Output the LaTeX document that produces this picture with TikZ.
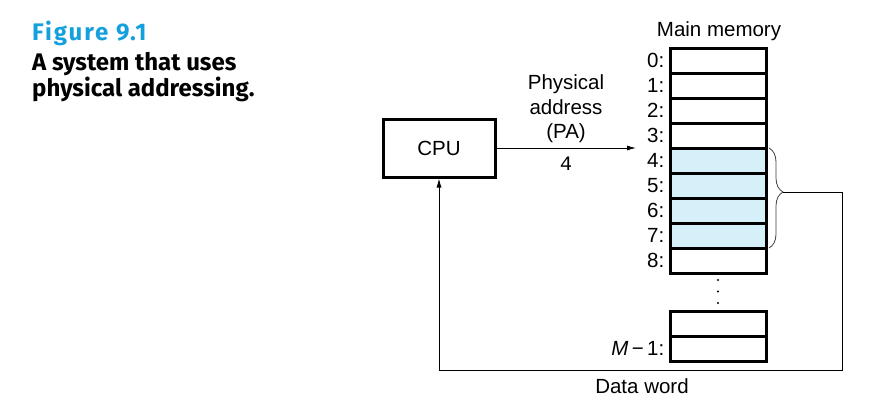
\documentclass[tikz,border=0pt]{standalone}
\usepackage{fontspec}
\setmainfont{Liberation Sans}
\setmonofont{Liberation Mono}
\newfontfamily\capfont{Fira Sans}
\newfontfamily\capwide[LetterSpace=8]{Fira Sans}
\usetikzlibrary{arrows.meta,positioning,decorations.pathreplacing}
\definecolor{capblue}{RGB}{20,160,220}
\definecolor{cellblue}{RGB}{214,240,250}
\tikzstyle{memcell} = [draw, line width=3pt, minimum width=96pt, minimum height=25pt, inner sep=0pt, outer sep=0pt]
\tikzstyle{hlcell} = [memcell, fill=cellblue]
\tikzstyle{cpublock} = [draw, line width=3pt, minimum width=112pt, minimum height=58pt]
\tikzstyle{arrow} = [draw, line width=0.8pt, -{Latex[length=9pt,width=5pt]}]
\tikzstyle{brace} = [draw, line width=0.8pt, color=black!75, decorate, decoration={brace, amplitude=14pt, aspect=0.44}]
\tikzstyle{lbl} = [inner sep=5.5pt]
\tikzstyle{captext} = [anchor=base west, inner sep=0pt, font=\capfont\bfseries\fontsize{24}{28}\selectfont]
\newcommand{\memcell}[2]{node (m#1) [memcell, label={[lbl]left:{#2}}] {}}
\newcommand{\hlcell}[2]{node (m#1) [hlcell, label={[lbl]left:{#2}}] {}}

\begin{document}
\begin{tikzpicture}[x=1pt, y=-1pt, font=\fontsize{20.5}{24.5}\selectfont]
\useasboundingbox (0,0) rectangle (888,418);
% caption
\node (cap1) [captext, text=capblue, font=\capwide\bfseries\fontsize{24}{28}\selectfont] at (32,40) {Figure 9.1};
\node (cap2) [captext] at (32,70) {A system that uses};
\node (cap3) [captext] at (32,96) {physical addressing.};

% memory
\node (mmlbl) [anchor=base] at (719,36) {Main memory};
\path (718,60.5) \memcell{0}{0:};
\path (m0)+(0,25) \memcell{1}{1:};
\path (m1)+(0,25) \memcell{2}{2:};
\path (m2)+(0,25) \memcell{3}{3:};
\path (m3)+(0,25) \hlcell{4}{4:};
\path (m4)+(0,25) \hlcell{5}{5:};
\path (m5)+(0,25) \hlcell{6}{6:};
\path (m6)+(0,25) \hlcell{7}{7:};
\path (m7)+(0,25) \memcell{8}{8:};
\foreach \y in {280,291.5,303} \fill (718,\y) circle (1.2pt);
\path (718,323.5) \memcell{a}{};
\path (ma)+(0,25) \memcell{b}{\textit{M}\,−\,1:};

% cpu
\node (cpu) [cpublock] at (439,148) {CPU};
\coordinate (pa) at (636,148);
\node (palbl) [align=center] at (566,109) {Physical\\address\\(PA)};
\node (paval) [anchor=base] at (566,170) {\texttt{4}};

% data word
\coordinate (br) at (783,192);
\coordinate (dw) at (842,370);
\node (dwlbl) [anchor=base] at (642,393) {Data word};

\path [arrow] (cpu.east) -- (pa);
\path [brace] ([xshift=3pt]m4.north east) -- ([xshift=3pt]m7.south east);
\path [arrow] (br) -| (dw) -| (cpu.south);
\end{tikzpicture}
\end{document}
